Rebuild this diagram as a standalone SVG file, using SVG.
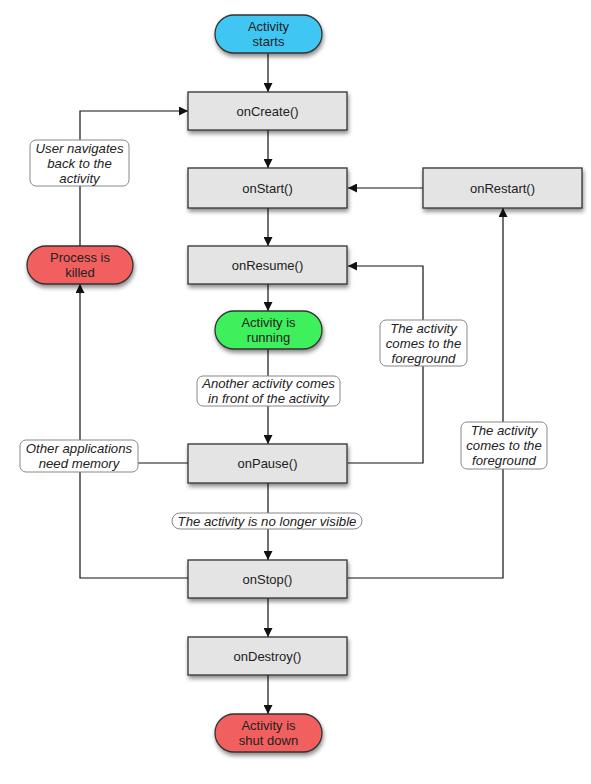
<svg xmlns="http://www.w3.org/2000/svg" width="591" height="784" viewBox="0 0 591 784">
<defs>
<filter id="sh" x="-20%" y="-30%" width="150%" height="180%">
<feDropShadow dx="1" dy="3" stdDeviation="2.2" flood-color="#000" flood-opacity="0.45"/>
</filter>
<marker id="arr" viewBox="0 0 10 10" refX="10" refY="5" markerWidth="9" markerHeight="9" markerUnits="userSpaceOnUse" orient="auto">
<path d="M0,0 L10,5 L0,10 z" fill="#111"/>
</marker>
<style>
.box{fill:#e4e4e4;stroke:#333;stroke-width:1.3;filter:url(#sh)}
.pill{stroke:#333;stroke-width:1.3;filter:url(#sh)}
.lbl{fill:#fff;stroke:#888;stroke-width:1}
.t{font-family:"Liberation Sans",Arial,sans-serif;font-size:13px;fill:#222;text-anchor:middle}
.i{font-family:"Liberation Sans",Arial,sans-serif;font-size:13.2px;font-style:italic;fill:#222;text-anchor:middle}
.c{fill:none;stroke:#111;stroke-width:1.2}
</style>
</defs>
<rect width="591" height="784" fill="#fff"/>
<g id="connectors">
<path class="c" d="M268,53 V92" marker-end="url(#arr)"/>
<path class="c" d="M268,130 V168" marker-end="url(#arr)"/>
<path class="c" d="M268,208 V246" marker-end="url(#arr)"/>
<path class="c" d="M268,284 V311" marker-end="url(#arr)"/>
<path class="c" d="M268,349 V444" marker-end="url(#arr)"/>
<path class="c" d="M268,483 V560" marker-end="url(#arr)"/>
<path class="c" d="M268,598 V637" marker-end="url(#arr)"/>
<path class="c" d="M268,675 V714" marker-end="url(#arr)"/>
<path class="c" d="M423,188 H348" marker-end="url(#arr)"/>
<path class="c" d="M348,463 H423 V266 H348" marker-end="url(#arr)"/>
<path class="c" d="M348,578 H503 V208" marker-end="url(#arr)"/>
<path class="c" d="M188,578 H80 V284" marker-end="url(#arr)"/>
<path class="c" d="M188,463 H80"/>
<path class="c" d="M80,246 V111 H188" marker-end="url(#arr)"/>
</g>
<g id="lbl-user-navigates">
<rect class="lbl" x="30" y="140" width="99" height="46" rx="6"/>
<text class="i" x="79.500" y="153">User navigates</text>
<text class="i" x="79.500" y="168">back to the</text>
<text class="i" x="79.500" y="183">activity</text>
</g>
<g id="lbl-other-apps">
<rect class="lbl" x="20" y="440" width="118" height="32" rx="6"/>
<text class="i" x="79" y="453">Other applications</text>
<text class="i" x="79" y="468">need memory</text>
</g>
<g id="lbl-another">
<rect class="lbl" x="197" y="376" width="143" height="30" rx="6"/>
<text class="i" x="268.500" y="388">Another activity comes</text>
<text class="i" x="268.500" y="403">in front of the activity</text>
</g>
<g id="lbl-no-longer">
<rect class="lbl" x="172" y="513" width="190" height="16" rx="8"/>
<text class="i" x="267" y="525.500">The activity is no longer visible</text>
</g>
<g id="lbl-foreground-1">
<rect class="lbl" x="380" y="320" width="87" height="46" rx="6"/>
<text class="i" x="423.500" y="333">The activity</text>
<text class="i" x="423.500" y="348">comes to the</text>
<text class="i" x="423.500" y="363">foreground</text>
</g>
<g id="lbl-foreground-2">
<rect class="lbl" x="461" y="422" width="86" height="47" rx="6"/>
<text class="i" x="504" y="435">The activity</text>
<text class="i" x="504" y="450">comes to the</text>
<text class="i" x="504" y="465">foreground</text>
</g>
<g id="activity-starts">
<rect class="pill" x="215" y="15" width="107" height="38" rx="19" fill="#3fc6f3"/>
<text class="t" x="268.500" y="31">Activity</text>
<text class="t" x="268.500" y="46">starts</text>
</g>
<g id="onCreate">
<rect class="box" x="188" y="92" width="159" height="38"/>
<text class="t" x="267.500" y="116">onCreate()</text>
</g>
<g id="onStart">
<rect class="box" x="188" y="168" width="159" height="40"/>
<text class="t" x="267.500" y="193">onStart()</text>
</g>
<g id="onRestart">
<rect class="box" x="423" y="168" width="159" height="40"/>
<text class="t" x="502.500" y="193">onRestart()</text>
</g>
<g id="onResume">
<rect class="box" x="188" y="246" width="159" height="38"/>
<text class="t" x="267.500" y="270">onResume()</text>
</g>
<g id="activity-running">
<rect class="pill" x="215" y="311" width="107" height="38" rx="19" fill="#3ef05c"/>
<text class="t" x="268.500" y="327">Activity is</text>
<text class="t" x="268.500" y="342">running</text>
</g>
<g id="process-killed">
<rect class="pill" x="27" y="246" width="106" height="38" rx="19" fill="#f25f5f"/>
<text class="t" x="80" y="262">Process is</text>
<text class="t" x="80" y="277">killed</text>
</g>
<g id="onPause">
<rect class="box" x="188" y="444" width="159" height="39"/>
<text class="t" x="267.500" y="468">onPause()</text>
</g>
<g id="onStop">
<rect class="box" x="188" y="560" width="159" height="38"/>
<text class="t" x="267.500" y="584">onStop()</text>
</g>
<g id="onDestroy">
<rect class="box" x="188" y="637" width="159" height="38"/>
<text class="t" x="267.500" y="661">onDestroy()</text>
</g>
<g id="activity-shut-down">
<rect class="pill" x="215" y="714" width="107" height="38" rx="19" fill="#f25f5f"/>
<text class="t" x="268.500" y="730">Activity is</text>
<text class="t" x="268.500" y="745">shut down</text>
</g>
</svg>
